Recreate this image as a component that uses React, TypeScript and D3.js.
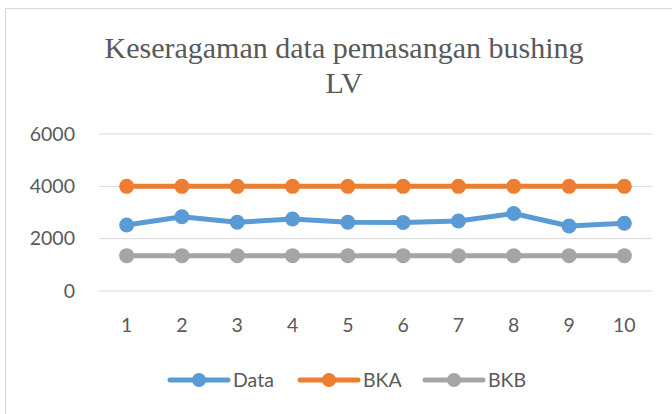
import React, { useRef, useEffect } from 'react';
import * as d3 from 'd3';

const categories = ['1', '2', '3', '4', '5', '6', '7', '8', '9', '10'];
const dataValues = [2520, 2840, 2625, 2750, 2625, 2620, 2675, 2960, 2485, 2590];
const bkaValues = [4000, 4000, 4000, 4000, 4000, 4000, 4000, 4000, 4000, 4000];
const bkbValues = [1350, 1350, 1350, 1350, 1350, 1350, 1350, 1350, 1350, 1350];
const yTicks = [0, 2000, 4000, 6000];
const titleLines = ['Keseragaman data pemasangan bushing', 'LV'];

const series = [
  { name: 'Data', values: dataValues, color: '#5B9BD5' },
  { name: 'BKA', values: bkaValues, color: '#ED7D31' },
  { name: 'BKB', values: bkbValues, color: '#A5A5A5' },
];

const App = () => {
  const ref = useRef<SVGSVGElement>(null);

  useEffect(() => {
    const svg = d3.select(ref.current);
    svg.selectAll('*').remove();

    const width = 672;
    const height = 414;
    const margin = { top: 134, right: 20, bottom: 123, left: 99 };
    const font = 'Lato, "Open Sans", sans-serif';
    const textColor = '#595959';

    // chart border
    svg.append('rect')
      .attr('x', 5.5)
      .attr('y', 8.5)
      .attr('width', width + 10)
      .attr('height', height + 10)
      .attr('fill', '#fff')
      .attr('stroke', '#D9D9D9');

    const x = d3.scaleBand()
      .domain(categories)
      .range([margin.left, width - margin.right]);

    const y = d3.scaleLinear()
      .domain([0, 6000])
      .range([height - margin.bottom, margin.top]);

    // title
    svg.append('text')
      .attr('x', 344)
      .attr('y', 58)
      .attr('text-anchor', 'middle')
      .attr('font-family', '"Liberation Serif", serif')
      .attr('font-size', 30)
      .attr('fill', textColor)
      .selectAll('tspan')
      .data(titleLines)
      .enter()
      .append('tspan')
      .attr('x', 344)
      .attr('dy', (d, i) => (i === 0 ? 0 : 35))
      .text(d => d);

    // gridlines
    svg.append('g')
      .selectAll('line')
      .data(yTicks)
      .enter()
      .append('line')
      .attr('x1', margin.left)
      .attr('x2', width - margin.right)
      .attr('y1', d => y(d))
      .attr('y2', d => y(d))
      .attr('stroke', '#D9D9D9')
      .attr('stroke-width', 1);

    // y axis labels
    svg.append('g')
      .selectAll('text')
      .data(yTicks)
      .enter()
      .append('text')
      .attr('x', 75)
      .attr('y', d => y(d))
      .attr('dy', '0.35em')
      .attr('text-anchor', 'end')
      .attr('font-family', font)
      .attr('font-size', 19.5)
      .attr('fill', textColor)
      .text(d => d);

    // x axis labels
    svg.append('g')
      .selectAll('text')
      .data(categories)
      .enter()
      .append('text')
      .attr('x', d => x(d)! + x.bandwidth() / 2)
      .attr('y', 325)
      .attr('dy', '0.35em')
      .attr('text-anchor', 'middle')
      .attr('font-family', font)
      .attr('font-size', 19.5)
      .attr('fill', textColor)
      .text(d => d);

    const line = d3.line<number>()
      .x((d, i) => x(categories[i])! + x.bandwidth() / 2)
      .y(d => y(d));

    series.forEach(s => {
      const g = svg.append('g');
      g.append('path')
        .datum(s.values)
        .attr('d', line)
        .attr('fill', 'none')
        .attr('stroke', s.color)
        .attr('stroke-width', 5)
        .attr('stroke-linejoin', 'round')
        .attr('stroke-linecap', 'round');
      g.selectAll('circle')
        .data(s.values)
        .enter()
        .append('circle')
        .attr('cx', (d, i) => x(categories[i])! + x.bandwidth() / 2)
        .attr('cy', d => y(d))
        .attr('r', 7.5)
        .attr('fill', s.color);
    });

    // legend
    const legendX = [170, 300, 425];
    const legend = svg.append('g')
      .selectAll('g')
      .data(series)
      .enter()
      .append('g')
      .attr('transform', (d, i) => `translate(${legendX[i]},380)`);

    legend.append('line')
      .attr('x1', 0)
      .attr('x2', 58)
      .attr('stroke', d => d.color)
      .attr('stroke-width', 5)
      .attr('stroke-linecap', 'round');

    legend.append('circle')
      .attr('cx', 29)
      .attr('r', 7)
      .attr('fill', d => d.color);

    legend.append('text')
      .attr('x', 63)
      .attr('dy', '0.35em')
      .attr('font-family', font)
      .attr('font-size', 19.5)
      .attr('fill', textColor)
      .text(d => d.name);
  }, []);

  return (
    <svg
      ref={ref}
      width={672}
      height={414}
      style={{ position: 'absolute', left: 0, top: 0, display: 'block' }}
    />
  );
};

export default App;
